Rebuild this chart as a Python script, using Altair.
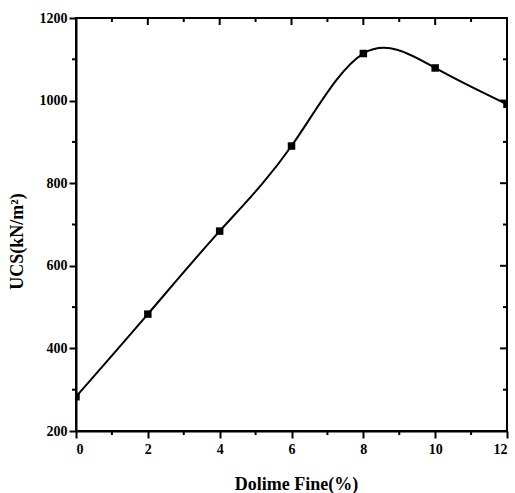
import altair as alt
import pandas as pd

# Unconfined compressive strength versus dolime fines content
dolime_pct = [0, 2, 4, 6, 8, 10, 12]
ucs_kn_m2 = [283, 483, 684, 890, 1114, 1079, 991]

x_major = [0, 2, 4, 6, 8, 10, 12]
x_minor = [1, 3, 5, 7, 9, 11]
y_major = [200, 400, 600, 800, 1000, 1200]
y_minor = [300, 500, 700, 900, 1100]

df = pd.DataFrame({"dolime": dolime_pct, "ucs": ucs_kn_m2})
xmaj = pd.DataFrame({"v": x_major})
xmin = pd.DataFrame({"v": x_minor})
ymaj = pd.DataFrame({"v": y_major})
ymin = pd.DataFrame({"v": y_minor})

W, H = 431, 413
FONT = "Liberation Serif"
MAJ, MIN = 7, 4
FRAME = "#000000"

x_scale = alt.Scale(domain=[0, 12], nice=False, zero=False)
y_scale = alt.Scale(domain=[200, 1200], nice=False, zero=False)

x_axis = alt.Axis(values=x_major, format="d", tickSize=MAJ, labelPadding=4,
                  grid=False, domainColor=FRAME, domainWidth=2,
                  tickColor=FRAME, tickWidth=2,
                  title="Dolime Fine(%)", titleX=220, titleY=58,
                  titleAlign="center", titleBaseline="alphabetic")
y_axis = alt.Axis(values=y_major, format="d", tickSize=MAJ, labelPadding=2,
                  grid=False, domainColor=FRAME, domainWidth=2,
                  tickColor=FRAME, tickWidth=2,
                  title="UCS(kN/m²)", titleX=-59, titleY=223, titleAngle=270,
                  titleAlign="center", titleBaseline="middle")

curve = alt.Chart(df).mark_line(interpolate="natural", color="#000000", strokeWidth=2).encode(
    x=alt.X("dolime:Q", scale=x_scale, axis=x_axis),
    y=alt.Y("ucs:Q", scale=y_scale, axis=y_axis),
)

markers = alt.Chart(df).mark_square(filled=True, size=56, color="#000000",
                                    opacity=1, clip=True).encode(
    x=alt.X("dolime:Q", scale=x_scale),
    y=alt.Y("ucs:Q", scale=y_scale),
)

# minor ticks outside the bottom and left edges
bottom_minor = alt.Chart(xmin).mark_rule(color=FRAME, strokeWidth=2).encode(
    x=alt.X("v:Q", scale=x_scale), y=alt.value(H), y2=alt.value(H + MIN))
left_minor = alt.Chart(ymin).mark_rule(color=FRAME, strokeWidth=2).encode(
    y=alt.Y("v:Q", scale=y_scale), x=alt.value(0), x2=alt.value(-MIN))

# ticks pointing inward along the top and right edges
top_major = alt.Chart(xmaj).mark_rule(color=FRAME, strokeWidth=2).encode(
    x=alt.X("v:Q", scale=x_scale), y=alt.value(0), y2=alt.value(MAJ))
top_minor = alt.Chart(xmin).mark_rule(color=FRAME, strokeWidth=2).encode(
    x=alt.X("v:Q", scale=x_scale), y=alt.value(0), y2=alt.value(MIN))
right_major = alt.Chart(ymaj).mark_rule(color=FRAME, strokeWidth=2).encode(
    y=alt.Y("v:Q", scale=y_scale), x=alt.value(W), x2=alt.value(W - MAJ))
right_minor = alt.Chart(ymin).mark_rule(color=FRAME, strokeWidth=2).encode(
    y=alt.Y("v:Q", scale=y_scale), x=alt.value(W), x2=alt.value(W - MIN))

chart = (
    alt.layer(curve, markers, bottom_minor, left_minor,
              top_major, top_minor, right_major, right_minor)
    .properties(
        width=W, height=H,
        autosize=alt.AutoSizeParams(type="none"),
        padding={"left": 76, "top": 18, "right": 8, "bottom": 62},
    )
    .configure_view(stroke=FRAME, strokeWidth=2)
    .configure_axis(
        labelFont=FONT, labelFontWeight="bold", labelFontSize=14, labelColor="#000000",
        titleFont=FONT, titleFontWeight="bold", titleFontSize=18, titleColor="#000000",
    )
)

chart.save("out.html", embed_options={"renderer": "svg", "actions": False})
